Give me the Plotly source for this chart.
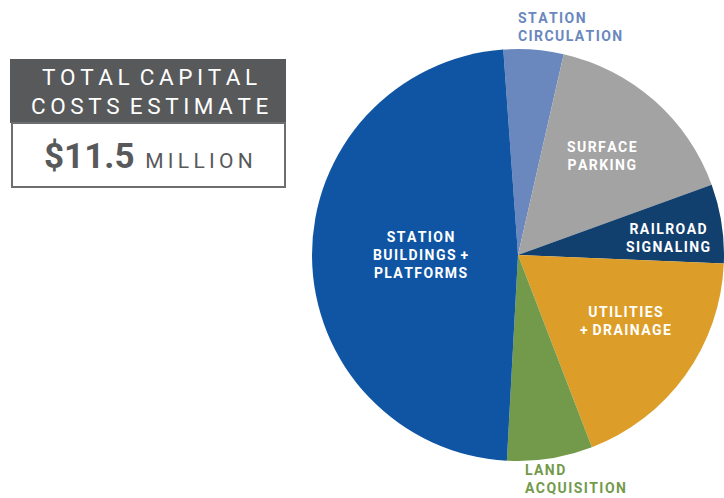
import plotly.graph_objects as go

W, H = 724, 498

# Cost breakdown (share of total, %)
categories = ["STATION CIRCULATION", "SURFACE PARKING", "RAILROAD SIGNALING",
              "UTILITIES + DRAINAGE", "LAND ACQUISITION", "STATION BUILDINGS + PLATFORMS"]
shares = [4.7, 15.9, 6.2, 18.5, 6.7, 48.0]
colors = ["#6A88BE", "#A3A3A3", "#12406E", "#DC9E28", "#739A4B", "#0F55A3"]

total_title = ["TOTAL CAPITAL", "COSTS ESTIMATE"]
total_value = "$11.5"
total_unit = "MILLION"

FONT = "Roboto"
THIN = "\u2009"
HAIR = "\u200A"


def spaced(s, sep=THIN):
    """Spread letters apart to mimic tracked capitals."""
    return sep.join(s).replace(sep + " " + sep, " " + sep)


def px(x):
    return x / W


def py(y):
    return 1 - y / H


# Pie geometry in pixels
cx, cy, r = 518, 255, 206

fig = go.Figure(go.Pie(
    labels=categories,
    values=shares,
    sort=False,
    direction="clockwise",
    rotation=-4.1,
    marker=dict(colors=colors, line=dict(width=0)),
    textinfo="none",
    hoverinfo="label+percent",
    showlegend=False,
    domain=dict(x=[px(cx - r), px(cx + r)], y=[py(cy + r), py(cy - r)]),
))

shapes = [
    dict(type="rect", xref="paper", yref="paper",
         x0=px(10), x1=px(286), y0=py(123), y1=py(59),
         fillcolor="#58595B", line=dict(width=0), layer="below"),
    dict(type="rect", xref="paper", yref="paper",
         x0=px(12), x1=px(285), y0=py(187), y1=py(123),
         fillcolor="white", line=dict(color="#6D6E70", width=2), layer="below"),
]

annotations = []


def label(x, y, lines, color, size=14, align="center", anchor="center"):
    annotations.append(dict(
        x=px(x), y=py(y), xref="paper", yref="paper",
        text="<br>".join("<b>" + spaced(l, HAIR) + "</b>" for l in lines),
        showarrow=False, align=align, xanchor=anchor, yanchor="middle",
        font=dict(family=FONT, size=size, color=color),
    ))


# Headline box
annotations.append(dict(
    x=px(149), y=py(92), xref="paper", yref="paper",
    text="<br>".join(spaced(t) for t in total_title),
    showarrow=False, align="center", xanchor="center", yanchor="middle",
    font=dict(family=FONT, size=22.5, color="white"),
))
annotations.append(dict(
    x=px(148), y=py(157), xref="paper", yref="paper",
    text="<b>" + total_value + "</b>"
         + "<span style='font-size:21px'>\u2002" + spaced(total_unit, THIN) + "</span>",
    showarrow=False, xanchor="center", yanchor="middle",
    font=dict(family=FONT, size=35, color="#58595B"),
))

# Slice labels
label(516, 27, ["STATION", "CIRCULATION"], "#6A88BE", align="left", anchor="left")
label(602, 156, ["SURFACE", "PARKING"], "white")
label(668, 238, ["RAILROAD", "SIGNALING"], "white")
label(625, 321, ["UTILITIES", "+ DRAINAGE"], "white")
label(420, 255, ["STATION", "BUILDINGS +", "PLATFORMS"], "white")
label(523, 479, ["LAND", "ACQUISITION"], "#739A4B", align="left", anchor="left")

fig.update_layout(
    width=W, height=H,
    margin=dict(l=0, r=0, t=0, b=0),
    paper_bgcolor="white", plot_bgcolor="white",
    shapes=shapes, annotations=annotations,
)

fig.write_html("out.html")
